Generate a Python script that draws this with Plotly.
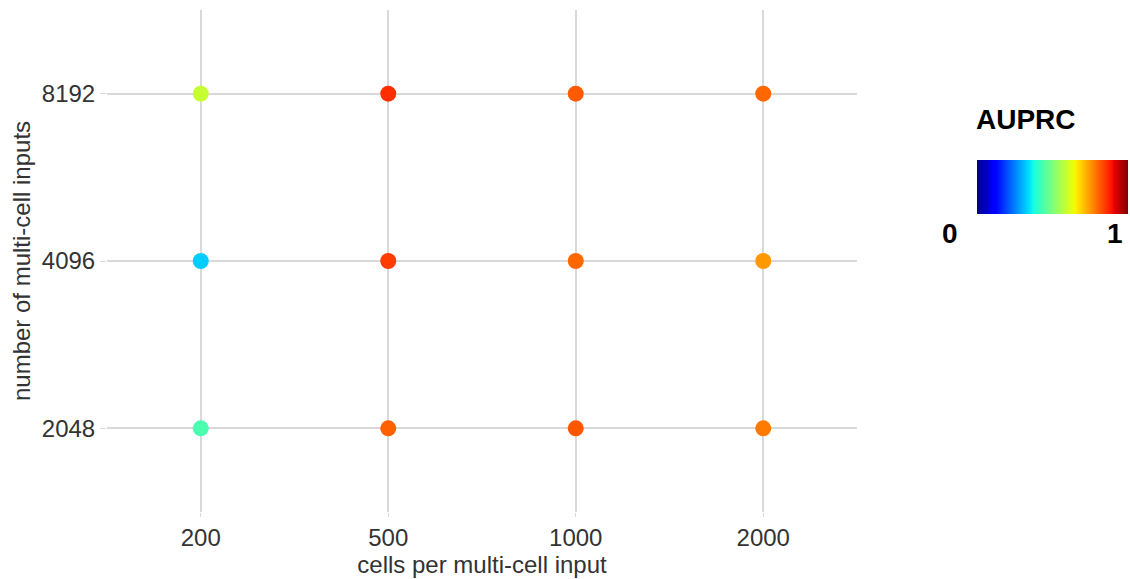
import plotly.graph_objects as go

# Grid of experiments: cells per input (x) vs number of inputs (y)
cells_per_input = ["200", "500", "1000", "2000"]
num_inputs = ["2048", "4096", "8192"]

# AUPRC for each (num_inputs row, cells_per_input column)
auprc_2048 = [0.44, 0.808, 0.818, 0.781]
auprc_4096 = [0.325, 0.845, 0.80, 0.748]
auprc_8192 = [0.59, 0.861, 0.815, 0.80]

rows = {"2048": auprc_2048, "4096": auprc_4096, "8192": auprc_8192}

xs, ys, cs = [], [], []
for yk in num_inputs:
    for xk, v in zip(cells_per_input, rows[yk]):
        xs.append(xk)
        ys.append(yk)
        cs.append(v)


def jet_scale():
    # matplotlib-style jet segment data
    red = [(0, 0), (0.35, 0), (0.66, 1), (0.89, 1), (1, 0.5)]
    green = [(0, 0), (0.125, 0), (0.375, 1), (0.64, 1), (0.91, 0), (1, 0)]
    blue = [(0, 0.5), (0.11, 1), (0.34, 1), (0.65, 0), (1, 0)]

    def interp(seg, t):
        for (a, va), (b, vb) in zip(seg, seg[1:]):
            if a <= t <= b:
                return va + (vb - va) * (t - a) / (b - a) if b > a else vb
        return seg[-1][1]

    stops = sorted({p for seg in (red, green, blue) for p, _ in seg})
    return [
        [t, "rgb({:.0f},{:.0f},{:.0f})".format(
            255 * interp(red, t), 255 * interp(green, t), 255 * interp(blue, t))]
        for t in stops
    ]


W, H = 1130, 579
L, R, T, B = 107, 273, 10, 67
pw, ph = W - L - R, H - T - B


def px(x):
    return (x - L) / pw


def py(y):
    return (H - B - y) / ph


fig = go.Figure(
    go.Scatter(
        x=xs,
        y=ys,
        mode="markers",
        marker=dict(
            size=16,
            color=cs,
            cmin=0,
            cmax=1,
            colorscale=jet_scale(),
            line=dict(width=0),
            colorbar=dict(
                orientation="h",
                x=px(977),
                xanchor="left",
                y=py(160),
                yanchor="top",
                lenmode="pixels",
                len=151,
                thicknessmode="pixels",
                thickness=54,
                xpad=0,
                ypad=0,
                outlinewidth=0,
                showticklabels=False,
                ticks="",
            ),
        ),
        hoverinfo="skip",
    )
)

grid = "#d9d9d9"
axis_font = dict(family="Liberation Sans, Arial, sans-serif", size=24, color="#333333")
label_font = dict(family="Liberation Sans, Arial, sans-serif", size=28, color="black")

fig.update_layout(
    width=W,
    height=H,
    margin=dict(l=L, r=R, t=T, b=B, autoexpand=False),
    paper_bgcolor="white",
    plot_bgcolor="white",
    showlegend=False,
    font=axis_font,
    xaxis=dict(
        type="category",
        categoryorder="array",
        categoryarray=cells_per_input,
        range=[-0.5, 3.5],
        showgrid=True,
        gridcolor=grid,
        gridwidth=1.5,
        zeroline=False,
        showline=False,
        ticks="outside",
        ticklen=4,
        tickcolor=grid,
        tickfont=axis_font,
        title=dict(text="cells per multi-cell input", font=axis_font, standoff=3),
    ),
    yaxis=dict(
        type="category",
        categoryorder="array",
        categoryarray=num_inputs,
        range=[-0.5, 2.5],
        showgrid=True,
        gridcolor=grid,
        gridwidth=1.5,
        zeroline=False,
        showline=False,
        ticks="outside",
        ticklen=6,
        tickcolor=grid,
        tickfont=axis_font,
        title=dict(text="number of multi-cell inputs", font=axis_font, standoff=4),
    ),
    annotations=[
        dict(text="<b>AUPRC</b>", x=px(1026), y=py(119), xref="paper", yref="paper",
             showarrow=False, xanchor="center", yanchor="middle", font=label_font),
        dict(text="<b>0</b>", x=px(950), y=py(233), xref="paper", yref="paper",
             showarrow=False, xanchor="center", yanchor="middle", font=label_font),
        dict(text="<b>1</b>", x=px(1115), y=py(233), xref="paper", yref="paper",
             showarrow=False, xanchor="center", yanchor="middle", font=label_font),
    ],
)

fig.write_html("out.html")
